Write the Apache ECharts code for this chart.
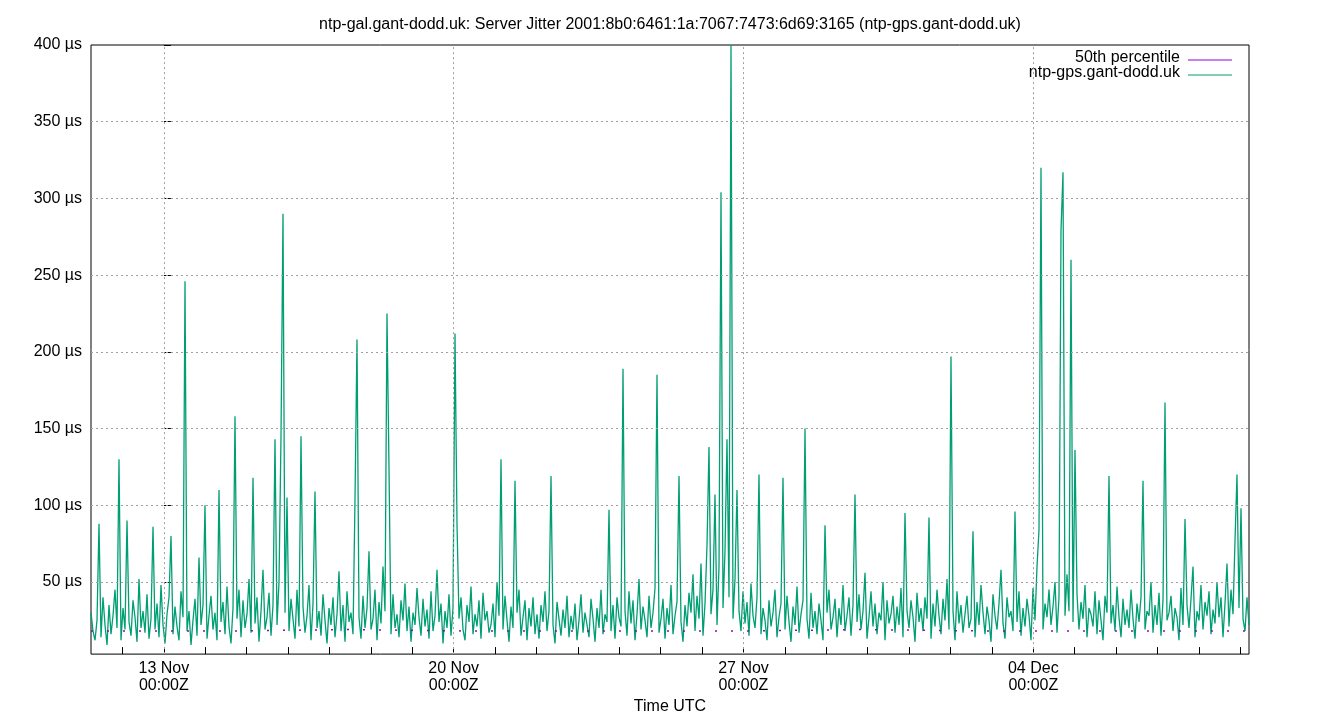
<!DOCTYPE html>
<html><head><meta charset="utf-8">
<script src="https://cdn.jsdelivr.net/npm/echarts@6/dist/echarts.min.js"></script>
<style>html,body{margin:0;padding:0;background:#fff}#c{width:1340px;height:720px}</style>
</head><body><div id="c"></div>
<script>
// x in days relative to 13 Nov 00:00Z
const xStart = -1.76, xEnd = 26.21;
const tickDays = [0, 7, 14, 21];
const tickLabels = ['13 Nov\n00:00Z', '20 Nov\n00:00Z', '27 Nov\n00:00Z', '04 Dec\n00:00Z'];
const minorDays = [-1,1,2,3,4,5,6,8,9,10,11,12,13,15,16,17,18,19,20,22,23,24,25,26];
const yTicks = [50,100,150,200,250,300,350,400];
const jitter = [
30,18,12,25,88,14,40,22,9,35,16,28,45,20,130,12,33,19,90,24,
15,38,27,11,52,20,31,17,42,13,26,86,19,36,14,48,22,10,29,40,
80,16,34,21,12,44,27,246,18,31,9,25,39,15,66,22,35,100,13,28,
41,19,30,12,110,24,37,16,47,21,10,33,158,26,45,14,38,20,29,52,
17,118,23,40,11,31,58,19,27,43,15,35,143,22,50,145,290,30,105,18,
39,26,13,45,21,145,34,17,28,48,12,36,109,20,31,15,42,25,10,33,
22,40,14,29,57,18,35,11,44,24,30,16,104,208,27,13,41,20,33,70,
19,26,45,12,37,23,60,31,225,124,16,42,20,29,14,38,25,49,18,34,
11,30,22,46,27,15,39,21,32,13,44,18,28,58,24,36,10,31,20,42,
15,33,212,88,26,40,19,12,35,24,47,16,29,21,38,13,43,25,31,17,
22,36,14,50,28,130,19,41,25,11,34,20,116,30,45,15,27,38,12,33,
21,40,16,29,13,35,24,44,18,31,119,22,10,37,26,15,32,20,41,14,
28,19,36,12,25,42,17,30,22,14,39,26,11,33,20,45,16,29,24,97,
18,35,13,40,27,21,189,31,15,44,23,38,12,29,52,19,34,25,14,41,
20,30,46,185,17,26,39,13,33,22,48,16,28,37,119,24,11,35,21,43,
30,55,18,41,26,62,15,36,74,138,29,45,107,22,60,304,33,70,143,40,
400,26,52,110,31,18,44,23,37,15,49,28,20,40,120,16,33,25,12,38,
21,30,45,14,27,36,118,19,41,24,11,34,22,47,17,29,38,150,26,13,
43,20,31,16,36,25,12,87,30,45,19,27,39,14,33,22,48,18,28,40,
15,35,107,24,42,19,31,56,13,27,44,21,36,16,30,25,50,12,38,23,
29,41,17,34,22,46,14,95,31,20,38,27,11,43,24,33,18,40,26,92,
13,36,21,45,28,16,39,25,52,19,197,31,12,44,23,35,17,29,41,20,
26,83,14,37,22,48,30,16,34,25,11,42,28,19,36,58,23,13,40,27,
31,18,96,24,44,15,33,21,39,28,12,46,25,60,84,320,19,36,27,45,
22,34,50,17,40,279,317,28,55,31,260,24,136,42,19,37,26,48,14,33,
29,21,44,16,38,25,12,41,30,119,23,35,18,47,27,14,39,22,32,20,
45,26,13,36,24,40,116,19,31,28,50,17,35,22,43,15,38,167,25,30,
41,18,33,27,12,46,22,91,35,20,39,60,14,31,25,48,19,37,28,44,
16,32,23,50,27,40,14,36,62,21,45,29,77,120,33,98,26,18,40,22];
const p50 = [18,18,19,18,18,18,19,18,18,18];

const step = (xEnd - xStart) / (jitter.length - 1);
const jData = jitter.map((v,i)=>[xStart + i*step, v]);
const pStep = (xEnd - xStart) / (p50.length - 1);
const pData = p50.map((v,i)=>[xStart + i*pStep, v]);
const font = 'Liberation Sans, Arial, sans-serif';
const grid = {left:91,right:91,top:45,bottom:65};

const chart = echarts.init(document.getElementById('c'));
chart.setOption({
  animation:false,
  title:{text:'ntp-gal.gant-dodd.uk: Server Jitter 2001:8b0:6461:1a:7067:7473:6d69:3165 (ntp-gps.gant-dodd.uk)',
    left:'center', top:12, textStyle:{fontFamily:font,fontSize:16,fontWeight:'normal',color:'#000'}},
  grid:Object.assign({show:true,borderColor:'#000',borderWidth:1},grid),
  xAxis:{type:'value',min:xStart,max:xEnd,name:'Time UTC',nameLocation:'middle',nameGap:44,
    nameTextStyle:{fontFamily:font,fontSize:16,color:'#000'},
    axisLine:{show:false},splitLine:{show:false},
    axisTick:{show:true,inside:true,length:7,customValues:tickDays.concat(minorDays),lineStyle:{color:'#000'}},
    axisLabel:{customValues:tickDays,fontFamily:font,fontSize:16,color:'#000',margin:6,lineHeight:17,
      formatter:v=>tickLabels[tickDays.indexOf(Math.round(v))]||''}},
  yAxis:{type:'value',min:3,max:400,
    axisLine:{show:false},splitLine:{show:false},
    axisTick:{show:true,inside:true,length:7,customValues:yTicks,lineStyle:{color:'#000'}},
    axisLabel:{customValues:yTicks,fontFamily:font,fontSize:16,color:'#000',margin:9,formatter:v=>v+' µs'}},
  series:[
    {name:'50th percentile',type:'line',data:pData,symbol:'none',lineStyle:{color:'#9400d3',width:1.5,type:[2,14]},z:3,
     markLine:{silent:true,symbol:'none',label:{show:false},
       lineStyle:{color:'#a0a0a0',type:[2,3],width:1},
       data:tickDays.map(d=>({xAxis:d})).concat(yTicks.slice(0,-1).map(v=>({yAxis:v})))}},
    {name:'ntp-gps.gant-dodd.uk',type:'line',data:jData,symbol:'none',lineStyle:{color:'#009e73',width:1.3},z:2}
  ],
  graphic:[
    {type:'text',right:1340-1180,top:50,style:{text:'50th percentile',font:'16px '+font,fill:'#000',textAlign:'right'}},
    {type:'text',right:1340-1180,top:65,style:{text:'ntp-gps.gant-dodd.uk',font:'16px '+font,fill:'#000',textAlign:'right'}},
    {type:'line',shape:{x1:1188,y1:60,x2:1232,y2:60},style:{stroke:'#9400d3',lineWidth:1}},
    {type:'line',shape:{x1:1188,y1:75,x2:1232,y2:75},style:{stroke:'#009e73',lineWidth:1}}
  ]
});
</script></body></html>
